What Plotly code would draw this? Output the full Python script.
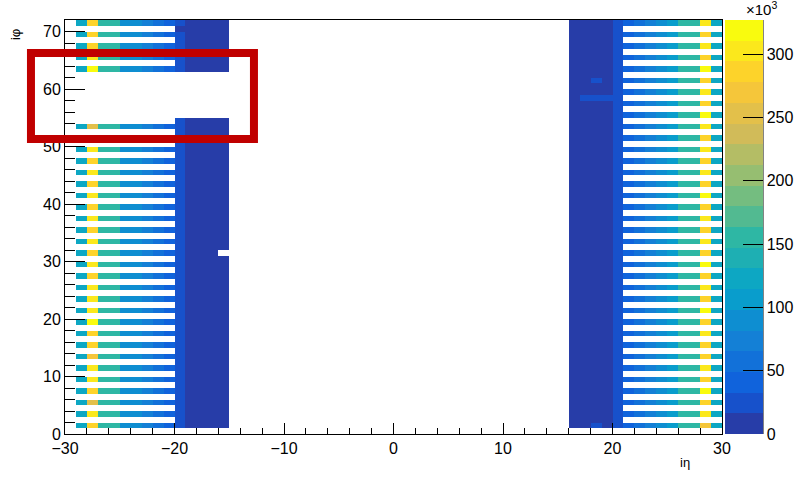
import numpy as np
import plotly.graph_objects as go

# ---------------- data ----------------
# odd iphi rows filled in the HF-like outer columns
PHI_ODD = list(range(1, 72, 2))
PHI_ALL = list(range(1, 72))
# iphi values missing on the negative side
PHI_MISSING_NEG = [55, 56, 57, 58, 59, 60, 61, 62]

# outer striped columns, negative side (value per column)
ETA_STRIPE_NEG = [-29, -27, -26, -25, -24, -23, -22, -21]
VAL_STRIPE_NEG = [118000, 162000, 152000, 96000, 82000, 66000, 52000, 44000]
# outer striped columns, positive side
ETA_STRIPE_POS = [21, 22, 23, 24, 25, 26, 27, 29]
VAL_STRIPE_POS = [44000, 52000, 66000, 82000, 100000, 152000, 158000, 118000]

# brightest column (iη = -28 and +28), one value per odd iphi (1..71)
YELLOW_NEG = [285000, 310000, 258000, 292000, 305000, 305000, 275000, 280000,
              290000, 322000, 305000, 305000, 300000, 290000, 305000, 285000,
              300000, 280000, 305000, 290000, 300000, 285000, 305000, 290000,
              300000, 280000, 258000, 0, 0, 0, 0, 320000,
              305000, 280000, 290000, 290000]
YELLOW_POS = [262000, 305000, 282000, 320000, 282000, 305000, 280000, 282000,
              305000, 282000, 320000, 282000, 305000, 282000, 320000, 282000,
              300000, 282000, 305000, 282000, 320000, 282000, 300000, 282000,
              305000, 282000, 300000, 320000, 282000, 305000, 282000, 320000,
              282000, 300000, 282000, 305000]

# inner full columns
ETA_MID_NEG = [-20]
ETA_MID_POS = [20]
VAL_MID = 25000
ETA_DARK_NEG = [-19, -18, -17, -16]
ETA_DARK_POS = [16, 17, 18, 19]
VAL_DARK = 8000

# individual cells that differ (iη, iφ, value); None = empty
SPECIAL = [(-16, 31, None), (-20, 70, 8000), (18, 61, 25000), (17, 58, 25000),
           (18, 58, 25000), (19, 58, 25000), (18, 1, 25000)]

ZMAX = 327000
CB_TICKS = [0, 50000, 100000, 150000, 200000, 250000, 300000]
CB_LABELS = ["0", "50", "100", "150", "200", "250", "300"]

# ---------------- build histogram grid ----------------
x_edges = list(range(-30, 31))
y_edges = list(range(0, 73))
z = [[None] * 60 for _ in range(72)]


def put(eta, phi, v):
    if 0 <= phi < 72:
        z[phi][eta + 30] = v


for eta, v in zip(ETA_STRIPE_NEG, VAL_STRIPE_NEG):
    for phi in PHI_ODD:
        if phi not in PHI_MISSING_NEG:
            put(eta, phi, v)
for eta, v in zip(ETA_STRIPE_POS, VAL_STRIPE_POS):
    for phi in PHI_ODD:
        put(eta, phi, v)
for phi, v in zip(PHI_ODD, YELLOW_NEG):
    if phi not in PHI_MISSING_NEG:
        put(-28, phi, v)
for phi, v in zip(PHI_ODD, YELLOW_POS):
    put(28, phi, v)
for eta in ETA_MID_NEG + ETA_DARK_NEG:
    for phi in PHI_ALL:
        if phi not in PHI_MISSING_NEG:
            put(eta, phi, VAL_MID if eta in ETA_MID_NEG else VAL_DARK)
for eta in ETA_MID_POS + ETA_DARK_POS:
    for phi in PHI_ALL:
        put(eta, phi, VAL_MID if eta in ETA_MID_POS else VAL_DARK)
for eta, phi, v in SPECIAL:
    put(eta, phi, v)

# ---------------- ROOT kBird palette, 20 contour bands ----------------
st = [0.0, 0.125, 0.25, 0.375, 0.5, 0.625, 0.75, 0.875, 1.0]
R = [0.2082, 0.0592, 0.0780, 0.0232, 0.1802, 0.5301, 0.8186, 0.9956, 0.9764]
G = [0.1664, 0.3599, 0.5041, 0.6419, 0.7178, 0.7492, 0.7328, 0.7862, 0.9832]
B = [0.5293, 0.8684, 0.8385, 0.7914, 0.6425, 0.4662, 0.3499, 0.1968, 0.0539]
NB = 20
cs = []
for i in range(NB):
    f = int((i + 0.99) * 255 / NB) / 254.0
    r, g, b = (int(round(255 * np.interp(f, st, c))) for c in (R, G, B))
    col = f"rgb({r},{g},{b})"
    cs.append([i / NB, col])
    cs.append([(i + 1) / NB, col])

FONT = "Liberation Sans, Arial, sans-serif"

fig = go.Figure(go.Heatmap(
    x=x_edges, y=y_edges, z=z, zmin=0, zmax=ZMAX, colorscale=cs,
    hoverongaps=False,
    colorbar=dict(x=1.0046, xanchor="left", y=0, yanchor="bottom", len=1,
                  lenmode="fraction", thickness=38, thicknessmode="pixels",
                  xpad=0, ypad=0, outlinewidth=0, ticks="inside", ticklen=20,
                  tickwidth=1, tickcolor="black", tickvals=CB_TICKS,
                  ticktext=CB_LABELS,
                  tickfont=dict(family=FONT, size=16, color="black")),
))

axis_common = dict(showline=True, mirror=True, linecolor="black", linewidth=1,
                   showgrid=False, zeroline=False, ticks="inside",
                   tickcolor="black", tickwidth=1, automargin=False,
                   tickfont=dict(family=FONT, size=16, color="black"))
fig.update_xaxes(range=[-30, 30], tick0=0, dtick=10, ticklen=11,
                 minor=dict(dtick=2, tick0=0, ticklen=6, ticks="inside",
                            tickcolor="black", tickwidth=1, showgrid=False),
                 **axis_common)
fig.update_yaxes(range=[0, 72], tick0=0, dtick=10, ticklen=20,
                 minor=dict(dtick=2, tick0=0, ticklen=10, ticks="inside",
                            tickcolor="black", tickwidth=1, showgrid=False),
                 **axis_common)

fig.update_layout(
    width=799, height=477,
    margin=dict(l=65, r=77, t=20, b=43, autoexpand=False),
    plot_bgcolor="white", paper_bgcolor="white",
    font=dict(family=FONT, color="black"),
    shapes=[
        # colour-bar axis line
        dict(type="line", xref="paper", yref="paper", x0=1.0624, x1=1.0624,
             y0=0, y1=1, line=dict(color="black", width=1)),
        # red highlight box
        dict(type="rect", xref="paper", yref="paper", x0=-0.0518, x1=0.2876,
             y0=0.7126, y1=0.9203, line=dict(color="#c00000", width=8),
             layer="above"),
    ],
    annotations=[
        dict(text="iη", xref="paper", yref="paper", x=0.954, y=-0.092,
             showarrow=False, font=dict(family=FONT, size=13)),
        dict(text="iφ", xref="paper", yref="paper", x=-0.0898, y=0.983,
             textangle=-90, showarrow=False, font=dict(family=FONT, size=13)),
        dict(text="×10<sup>3</sup>", xref="paper", yref="paper", x=1.087,
             y=1.0, yanchor="bottom", showarrow=False,
             font=dict(family=FONT, size=15)),
    ],
)

fig.write_html("out.html",
               config={"displayModeBar": False},
               post_script="document.body.style.margin='0';"
                           "document.body.style.overflow='hidden';")
